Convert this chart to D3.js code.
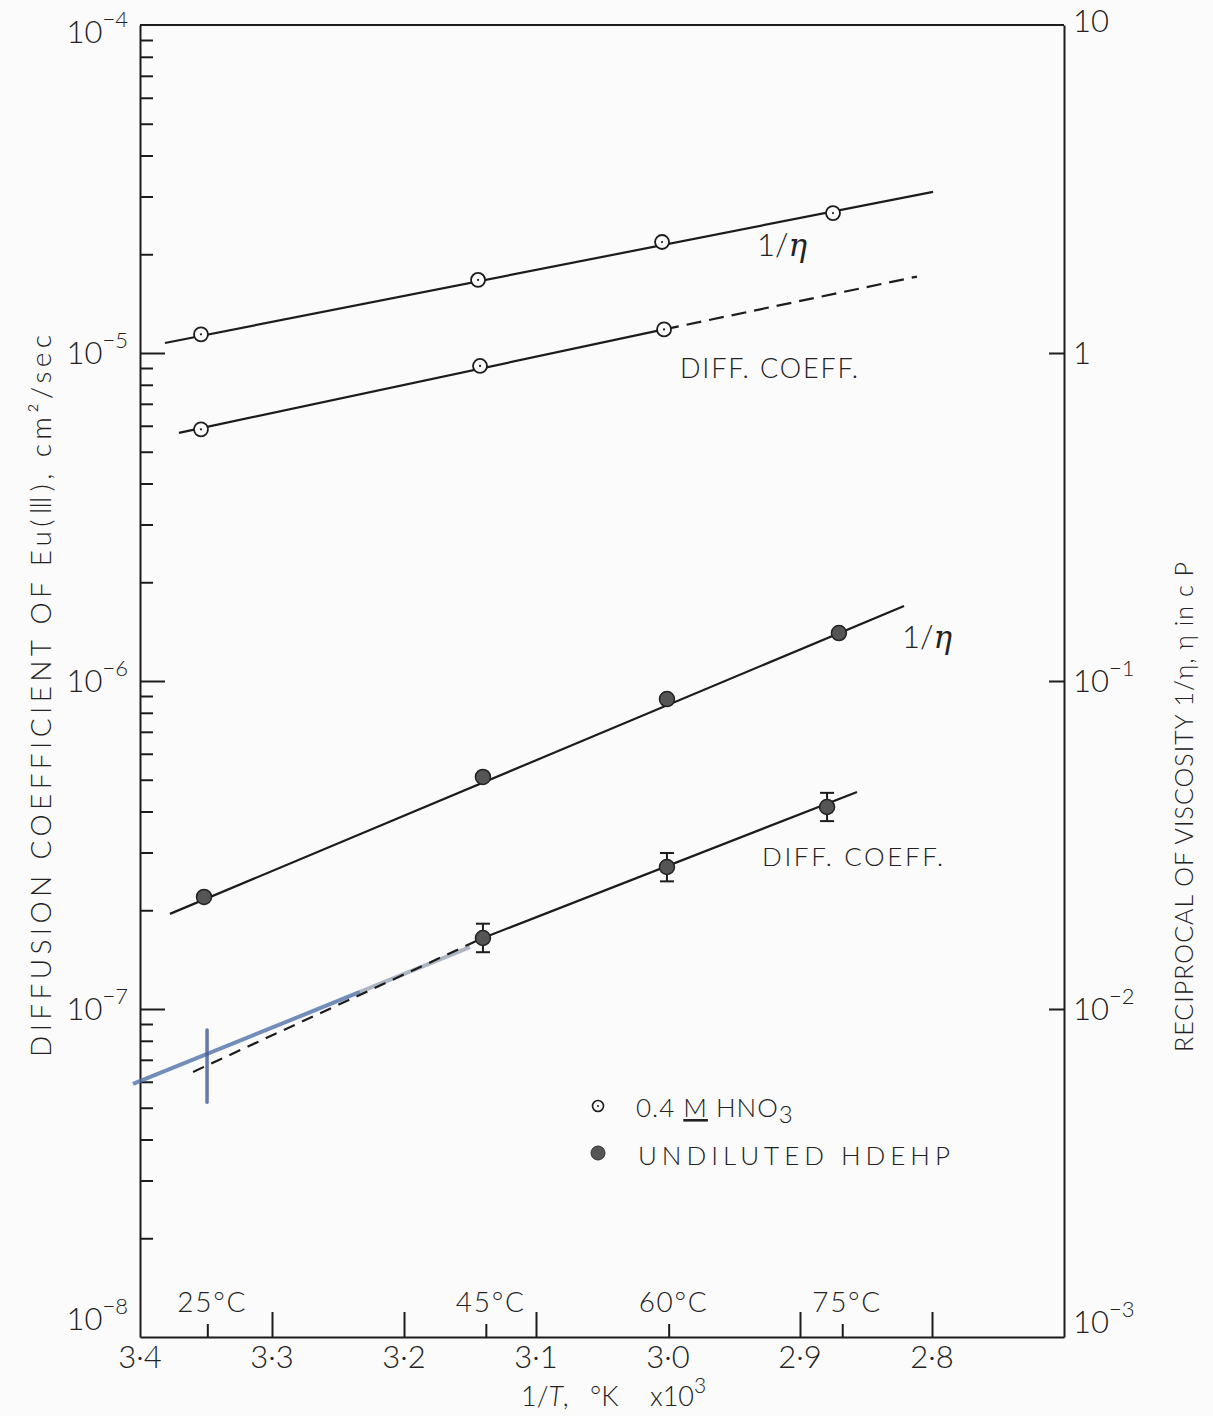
<!DOCTYPE html>
<html><head><meta charset="utf-8">
<script src="https://cdn.jsdelivr.net/npm/d3@7"></script>
<style>
body{margin:0;background:#fbfbfb;}
svg{display:block;}
text{font-family:Lato,"Open Sans","DejaVu Sans",sans-serif;fill:#222;font-weight:300;}
</style></head><body>
<svg id="chart" width="1213" height="1416"></svg>
<script>
// ---------- data ----------
const xTickValues = [3.4, 3.3, 3.2, 3.1, 3.0, 2.9, 2.8];
const xTickLabels = ["3·4", "3·3", "3·2", "3·1", "3·0", "2·9", "2·8"];
const xMajorTicks = [3.3, 3.2, 3.1, 2.9, 2.8];
const tempLabels = ["25°C", "45°C", "60°C", "75°C"];
const tempTickX = [3.349, 3.138, 2.9995, 2.868];
const leftMajor = [1e-8, 1e-7, 1e-6, 1e-5, 1e-4];
const leftExp = ["−8", "−7", "−6", "−5", "−4"];
const minorMultipliers = [2, 3, 4, 5, 6, 7, 8, 9];
const rightMajor = [1e-3, 1e-2, 1e-1, 1, 10];
const rightBase = ["10", "10", "10", "1", "10"];
const rightExp = ["−3", "−2", "−1", "", ""];

// 0.4 M HNO3 (open circles)
const hno3InvEtaX = [3.3538, 3.1439, 3.0045, 2.875];
const hno3InvEta = [1.14, 1.67, 2.18, 2.67];
const hno3InvEtaFitX = [3.3811, 2.7992];
const hno3InvEtaFit = [1.073, 3.10];
const hno3DiffX = [3.3538, 3.1424, 3.0030];
const hno3Diff = [5.85e-6, 9.13e-6, 1.18e-5];
const hno3DiffFitX = [3.3705, 3.0030];
const hno3DiffFit = [5.71e-6, 1.18e-5];
const hno3DiffExtX = [3.0030, 2.8114];
const hno3DiffExt = [1.18e-5, 1.71e-5];

// undiluted HDEHP (filled circles)
const hdehpInvEtaX = [3.3515, 3.1402, 3.0008, 2.8705];
const hdehpInvEta = [0.02196, 0.0510, 0.0881, 0.140];
const hdehpInvEtaFitX = [3.3773, 2.8212];
const hdehpInvEtaFit = [0.0195, 0.1694];
const hdehpDiffX = [3.1402, 3.0008, 2.8795];
const hdehpDiff = [1.646e-7, 2.71e-7, 4.13e-7];
const hdehpDiffLo = [1.49e-7, 2.45e-7, 3.74e-7];
const hdehpDiffHi = [1.82e-7, 2.99e-7, 4.56e-7];
const hdehpDiffFitX = [3.1402, 2.8568];
const hdehpDiffFit = [1.646e-7, 4.59e-7];
const hdehpDiffExtX = [3.3598, 3.1402];
const hdehpDiffExt = [6.43e-8, 1.646e-7];

// hand-drawn blue annotation
const blueLineX = [3.4053, 3.2333];
const blueLine = [5.91e-8, 1.127e-7];
const fadeLineX = [3.2333, 3.15];
const fadeLine = [1.127e-7, 1.545e-7];
const blueMarkX = [3.3492, 3.3492];
const blueMark = [8.63e-8, 5.2e-8];

// ---------- scales ----------
const svg = d3.select("#chart");
const x = d3.scaleLinear().domain([3.4, 2.7]).range([140, 1064]);
const yL = d3.scaleLog().domain([1e-8, 1e-4]).range([1337, 25]);
const yR = d3.scaleLog().domain([1e-3, 10]).range([1337, 25]);
const ink = "#1c1c1c";

function styleAxis(g){
  g.selectAll("path,line").attr("stroke", ink).attr("stroke-width", 2);
  g.selectAll("text").remove();
}

// left axis
const minorTicks = [];
leftMajor.slice(0, 4).forEach(m => minorMultipliers.forEach(k => minorTicks.push(m * k)));
svg.append("g").attr("transform", "translate(140,0)")
  .call(d3.axisRight(yL).tickValues(leftMajor.slice(1,4)).tickSize(25).tickSizeOuter(0).tickFormat(""))
  .call(styleAxis);
svg.append("g").attr("transform", "translate(140,0)")
  .call(d3.axisRight(yL).tickValues(minorTicks).tickSize(13).tickSizeOuter(0).tickFormat(""))
  .call(styleAxis).call(g => g.select(".domain").remove());

// right axis
svg.append("g").attr("transform", `translate(${x(2.7)},0)`)
  .call(d3.axisLeft(yR).tickValues(rightMajor.slice(1,4)).tickSize(15).tickSizeOuter(0).tickFormat(""))
  .call(styleAxis);

// bottom axis
svg.append("g").attr("transform", "translate(0,1337)")
  .call(d3.axisTop(x).tickValues(xMajorTicks).tickSize(25).tickSizeOuter(0).tickFormat(""))
  .call(styleAxis);
svg.append("g").attr("transform", "translate(0,1337)")
  .call(d3.axisTop(x).tickValues(tempTickX).tickSize(13).tickSizeOuter(0).tickFormat(""))
  .call(styleAxis).call(g => g.select(".domain").remove());

// top border
svg.append("line").attr("x1", x(3.4)).attr("x2", x(2.7)).attr("y1", yL(1e-4)).attr("y2", yL(1e-4))
  .attr("stroke", ink).attr("stroke-width", 2);

// left tick labels
leftMajor.forEach((v, i) => {
  let yy = yL(v) + 11;
  if (i === 0) yy -= 18;
  if (i === 4) yy += 7;
  const t = svg.append("text").attr("x", 128).attr("y", yy).attr("text-anchor", "end").style("font-size", "31px");
  t.append("tspan").text("10");
  t.append("tspan").attr("dy", -16).style("font-size", "22px").text(leftExp[i]);
});
// right tick labels
rightMajor.forEach((v, i) => {
  let yy = yR(v) + 11;
  if (i === 0) yy -= 15;
  if (i === 4) yy -= 4;
  const t = svg.append("text").attr("x", 1073).attr("y", yy).style("font-size", "31px");
  t.append("tspan").text(rightBase[i]);
  if (rightExp[i]) t.append("tspan").attr("dy", -16).style("font-size", "22px").text(rightExp[i]);
});
// x tick labels
xTickValues.forEach((v, i) => {
  svg.append("text").attr("x", x(v)).attr("y", 1368).attr("text-anchor", "middle")
    .style("font-size", "31px").text(xTickLabels[i]);
});
// temperature labels
tempTickX.forEach((v, i) => {
  svg.append("text").attr("x", x(v) + 4).attr("y", 1312).attr("text-anchor", "middle")
    .attr("textLength", 68).attr("lengthAdjust", "spacing")
    .style("font-size", "28px").text(tempLabels[i]);
});

// axis titles
svg.append("text").attr("transform", "translate(51,696) rotate(-90)").attr("text-anchor", "middle")
  .attr("textLength", 722).attr("lengthAdjust", "spacing").style("font-size", "28px")
  .text("DIFFUSION COEFFICIENT OF Eu(Ⅲ), cm²/sec");
svg.append("text").attr("transform", "translate(1193,807) rotate(-90)").attr("text-anchor", "middle")
  .attr("textLength", 490).attr("lengthAdjust", "spacing").style("font-size", "25px")
  .text("RECIPROCAL OF VISCOSITY 1/η, η in c P");
const xt = svg.append("text").attr("y", 1406).style("font-size", "27px");
xt.append("tspan").attr("x", 521).text("1/");
xt.append("tspan").style("font-style", "italic").text("T");
xt.append("tspan").text(",");
xt.append("tspan").attr("x", 590).text("°K");
xt.append("tspan").attr("x", 650).text("x10");
xt.append("tspan").attr("dy", -13).style("font-size", "21px").text("3");

// ---------- lines ----------
const lineL = d3.line().x(d => x(d[0])).y(d => yL(d[1]));
const lineR = d3.line().x(d => x(d[0])).y(d => yR(d[1]));
const zip = (a, b) => a.map((v, i) => [v, b[i]]);

function path(gen, data, opts){
  const p = svg.append("path").attr("d", gen(data)).attr("fill", "none")
    .attr("stroke", opts.color || ink).attr("stroke-width", opts.w || 2.2);
  if (opts.dash) p.attr("stroke-dasharray", opts.dash);
  if (opts.op) p.attr("stroke-opacity", opts.op);
  if (opts.cap) p.attr("stroke-linecap", opts.cap);
  return p;
}

// blue hand-drawn annotation (under black lines)
path(lineL, zip(fadeLineX, fadeLine), {color: "#9aa6b6", w: 4, op: 0.8});
path(lineL, zip(blueLineX, blueLine), {color: "#4f72a8", w: 4, op: 0.8});
path(lineL, zip(blueMarkX, blueMark), {color: "#4a5f9c", w: 3.5, op: 0.85, cap: "round"});

path(lineR, zip(hno3InvEtaFitX, hno3InvEtaFit), {});
path(lineL, zip(hno3DiffFitX, hno3DiffFit), {});
path(lineL, zip(hno3DiffExtX, hno3DiffExt), {dash: "15 8"});
path(lineR, zip(hdehpInvEtaFitX, hdehpInvEtaFit), {});
path(lineL, zip(hdehpDiffFitX, hdehpDiffFit), {});
path(lineL, zip(hdehpDiffExtX, hdehpDiffExt), {dash: "12 8"});

// error bars
hdehpDiffX.forEach((v, i) => {
  const cx = x(v);
  svg.append("line").attr("x1", cx).attr("x2", cx).attr("y1", yL(hdehpDiffLo[i])).attr("y2", yL(hdehpDiffHi[i]))
    .attr("stroke", ink).attr("stroke-width", 2);
  [hdehpDiffLo[i], hdehpDiffHi[i]].forEach(e => {
    svg.append("line").attr("x1", cx - 7).attr("x2", cx + 7).attr("y1", yL(e)).attr("y2", yL(e))
      .attr("stroke", ink).attr("stroke-width", 2);
  });
});

// markers
function openPts(xs, ys, sc){
  xs.forEach((v, i) => {
    svg.append("circle").attr("cx", x(v)).attr("cy", sc(ys[i])).attr("r", 7)
      .attr("fill", "#fcfcfc").attr("stroke", ink).attr("stroke-width", 1.8);
    svg.append("circle").attr("cx", x(v)).attr("cy", sc(ys[i])).attr("r", 1.1).attr("fill", ink);
  });
}
function filledPts(xs, ys, sc){
  xs.forEach((v, i) => {
    svg.append("circle").attr("cx", x(v)).attr("cy", sc(ys[i])).attr("r", 7.5)
      .attr("fill", "#555").attr("stroke", "#222").attr("stroke-width", 1.5);
  });
}
openPts(hno3InvEtaX, hno3InvEta, yR);
openPts(hno3DiffX, hno3Diff, yL);
filledPts(hdehpInvEtaX, hdehpInvEta, yR);
filledPts(hdehpDiffX, hdehpDiff, yL);

// curve labels
function etaLabel(px, py){
  const t = svg.append("text").attr("x", px).attr("y", py).style("font-size", "31px");
  t.append("tspan").text("1/");
  t.append("tspan").style("font-style", "italic").style("font-family", "'DejaVu Serif',serif").text("η");
}
etaLabel(757, 256);
etaLabel(902, 648);
svg.append("text").attr("x", 680).attr("y", 378).attr("textLength", 178).attr("lengthAdjust", "spacing")
  .style("font-size", "27px").text("DIFF. COEFF.");
svg.append("text").attr("x", 762).attr("y", 866).attr("textLength", 181).attr("lengthAdjust", "spacing")
  .style("font-size", "26px").text("DIFF. COEFF.");

// legend
svg.append("circle").attr("cx", 598).attr("cy", 1106).attr("r", 5.5).attr("fill", "none").attr("stroke", ink).attr("stroke-width", 1.6);
svg.append("circle").attr("cx", 598).attr("cy", 1106).attr("r", 1).attr("fill", ink);
svg.append("circle").attr("cx", 598).attr("cy", 1153).attr("r", 7).attr("fill", "#555").attr("stroke", "#333").attr("stroke-width", 1);
const l1 = svg.append("text").attr("x", 636).attr("y", 1117).style("font-size", "26px").style("letter-spacing", "1px");
l1.append("tspan").text("0.4 ");
l1.append("tspan").style("text-decoration", "underline").text("M");
l1.append("tspan").text(" HNO");
l1.append("tspan").attr("dy", 6).style("font-size", "24px").text("3");
svg.append("text").attr("x", 638).attr("y", 1165).attr("textLength", 312).attr("lengthAdjust", "spacing")
  .style("font-size", "26px").text("UNDILUTED  HDEHP");
</script>
</body></html>
